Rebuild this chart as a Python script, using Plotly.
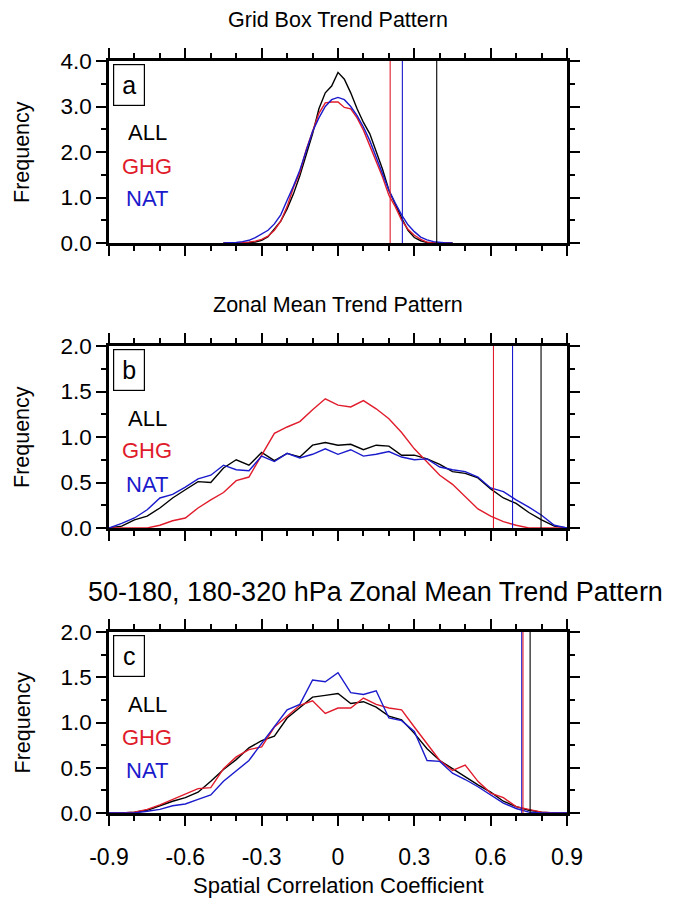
import plotly.graph_objects as go

# ---------------- data ----------------
# Panel a: Grid Box Trend Pattern (bin centres every 0.025)
x_a = [-0.45, -0.425, -0.4, -0.375, -0.35, -0.325, -0.3, -0.275, -0.25, -0.225, -0.2, -0.175,
       -0.15, -0.125, -0.1, -0.075, -0.05, -0.025, 0.0, 0.025, 0.05, 0.075, 0.1, 0.125,
       0.15, 0.175, 0.2, 0.225, 0.25, 0.275, 0.3, 0.325, 0.35, 0.375, 0.4, 0.425, 0.45]
all_a = [0, 0, 0, 0.0, 0.01, 0.02, 0.06, 0.14, 0.30, 0.48, 0.75, 1.08, 1.48, 1.95, 2.40, 2.95,
         3.30, 3.45, 3.75, 3.60, 3.30, 2.95, 2.65, 2.40, 2.00, 1.62, 1.16, 0.85, 0.55, 0.28,
         0.12, 0.05, 0.01, 0, 0, 0, 0]
ghg_a = [0, 0, 0, 0.01, 0.02, 0.04, 0.08, 0.15, 0.28, 0.48, 0.80, 1.22, 1.55, 2.05, 2.45, 2.85,
         3.08, 3.10, 3.10, 2.98, 2.95, 2.75, 2.48, 2.15, 1.82, 1.45, 1.05, 0.80, 0.50, 0.30,
         0.17, 0.08, 0.02, 0, 0, 0, 0]
nat_a = [0, 0, 0.01, 0.03, 0.06, 0.12, 0.20, 0.28, 0.42, 0.62, 0.94, 1.25, 1.60, 2.05, 2.45, 2.75,
         3.00, 3.15, 3.20, 3.15, 3.00, 2.80, 2.55, 2.25, 1.90, 1.55, 1.16, 0.88, 0.62, 0.40,
         0.25, 0.13, 0.07, 0.03, 0.01, 0, 0]
thr_a = {"ALL": 0.388, "GHG": 0.205, "NAT": 0.253}

# Panels b and c: bin centres every 0.05
x_bc = [-0.9, -0.85, -0.8, -0.75, -0.7, -0.65, -0.6, -0.55, -0.5, -0.45, -0.4, -0.35, -0.3,
        -0.25, -0.2, -0.15, -0.1, -0.05, 0.0, 0.05, 0.1, 0.15, 0.2, 0.25, 0.3, 0.35, 0.4,
        0.45, 0.5, 0.55, 0.6, 0.65, 0.7, 0.75, 0.8, 0.85, 0.9]

# Panel b: Zonal Mean Trend Pattern
all_b = [0, 0.02, 0.09, 0.13, 0.22, 0.33, 0.42, 0.51, 0.50, 0.66, 0.75, 0.69, 0.83, 0.74, 0.82,
         0.78, 0.91, 0.94, 0.91, 0.92, 0.86, 0.91, 0.90, 0.80, 0.80, 0.76, 0.70, 0.62, 0.60,
         0.55, 0.43, 0.33, 0.27, 0.17, 0.09, 0.02, 0]
ghg_b = [0, 0, 0, 0, 0.03, 0.08, 0.11, 0.22, 0.31, 0.39, 0.52, 0.56, 0.80, 1.04, 1.11, 1.17,
         1.30, 1.42, 1.35, 1.33, 1.40, 1.31, 1.20, 1.05, 0.87, 0.72, 0.58, 0.48, 0.35, 0.21,
         0.13, 0.07, 0.03, 0.0, 0, 0, 0]
nat_b = [0, 0.05, 0.11, 0.20, 0.33, 0.37, 0.45, 0.54, 0.58, 0.69, 0.64, 0.63, 0.79, 0.73, 0.82,
         0.77, 0.81, 0.87, 0.81, 0.86, 0.79, 0.81, 0.84, 0.78, 0.75, 0.76, 0.67, 0.64, 0.62,
         0.56, 0.44, 0.40, 0.31, 0.23, 0.14, 0.03, 0]
thr_b = {"ALL": 0.798, "GHG": 0.611, "NAT": 0.686}

# Panel c: 50-180, 180-320 hPa Zonal Mean Trend Pattern
all_c = [0, 0, 0.01, 0.03, 0.08, 0.13, 0.17, 0.23, 0.35, 0.48, 0.59, 0.72, 0.80, 0.85, 1.05,
         1.17, 1.28, 1.30, 1.32, 1.21, 1.23, 1.17, 1.07, 1.03, 0.88, 0.71, 0.58, 0.49, 0.40,
         0.31, 0.23, 0.13, 0.07, 0.03, 0.01, 0, 0]
ghg_c = [0, 0, 0.01, 0.04, 0.09, 0.15, 0.21, 0.27, 0.28, 0.49, 0.62, 0.70, 0.73, 0.95, 1.07,
         1.19, 1.24, 1.10, 1.16, 1.16, 1.27, 1.20, 1.16, 1.14, 0.95, 0.77, 0.58, 0.47, 0.53,
         0.35, 0.22, 0.17, 0.07, 0.04, 0.01, 0, 0]
nat_c = [0, 0, 0, 0.02, 0.04, 0.08, 0.10, 0.15, 0.20, 0.35, 0.46, 0.58, 0.77, 0.95, 1.14,
         1.20, 1.47, 1.45, 1.55, 1.33, 1.31, 1.35, 1.05, 1.02, 0.90, 0.58, 0.57, 0.44, 0.37,
         0.29, 0.20, 0.11, 0.05, 0.01, 0, 0, 0]
thr_c = {"ALL": 0.755, "NAT": 0.722, "GHG": 0.727}

panel_titles = ["Grid Box Trend Pattern", "Zonal Mean Trend Pattern",
                "50-180, 180-320 hPa Zonal Mean Trend Pattern"]
panel_letters = ["a", "b", "c"]
series_names = ["ALL", "GHG", "NAT"]
x_tickvals = [-0.9, -0.6, -0.3, 0, 0.3, 0.6, 0.9]
x_ticktext = ["-0.9", "-0.6", "-0.3", "0", "0.3", "0.6", "0.9"]
y_ticks_a = [0, 1, 2, 3, 4]
y_ticktext_a = ["0.0", "1.0", "2.0", "3.0", "4.0"]
y_ticks_bc = [0, 0.5, 1.0, 1.5, 2.0]
y_ticktext_bc = ["0.0", "0.5", "1.0", "1.5", "2.0"]

# ---------------- style ----------------
OFF = 8                     # default page body margin
W, H = 671, 891
L, R, T, B = 101, 112, 53, 86
PW, PH = W - L - R, H - T - B
COL = {"ALL": "#000000", "GHG": "#E01B2B", "NAT": "#1A1ACC"}
FONT = "Liberation Sans, Arial, Helvetica, sans-serif"


def px_x(p):                # page pixel -> paper fraction
    return (p - OFF - L) / PW


def px_y(p):
    return (H - B - (p - OFF)) / PH


panel_px = [(61, 243), (346, 528), (632, 813)]  # (top, bottom) page pixel rows
ymax = [4.0, 2.0, 2.0]
title_pos = [(338, 20, 21.5), (338, 305, 21.5), (375, 592, 27)]

panels = [
    (x_a, {"ALL": all_a, "GHG": ghg_a, "NAT": nat_a}, thr_a),
    (x_bc, {"ALL": all_b, "GHG": ghg_b, "NAT": nat_b}, thr_b),
    (x_bc, {"ALL": all_c, "GHG": ghg_c, "NAT": nat_c}, thr_c),
]

fig = go.Figure()
annotations = []
layout = {}

for i, (xs, series, thr) in enumerate(panels):
    n = i + 1
    xa = "x" if n == 1 else f"x{n}"
    ya = "y" if n == 1 else f"y{n}"
    for name in series_names:
        fig.add_trace(go.Scatter(x=xs, y=series[name], mode="lines", xaxis=xa, yaxis=ya,
                                 line=dict(color=COL[name], width=1.4), showlegend=False))
    for name in ["ALL", "NAT", "GHG"]:
        fig.add_trace(go.Scatter(x=[thr[name], thr[name]], y=[0, ymax[i]], mode="lines",
                                 xaxis=xa, yaxis=ya, line=dict(color=COL[name], width=1.1),
                                 showlegend=False))
    top, bot = panel_px[i]
    dom = [px_y(bot), px_y(top)]
    layout[f"xaxis{'' if n == 1 else n}"] = dict(
        domain=[0, 1], anchor=ya, range=[-0.9, 0.9],
        tickvals=x_tickvals, ticktext=x_ticktext, showticklabels=(n == 3),
        ticks="outside", ticklen=10, tickwidth=2, tickcolor="black",
        minor=dict(dtick=0.1, tick0=-0.9, ticks="outside", ticklen=5, tickwidth=1.5,
                   tickcolor="black", showgrid=False),
        showline=True, linewidth=2.5, linecolor="black", mirror="allticks",
        showgrid=False, zeroline=False, ticklabelstandoff=12,
        tickfont=dict(family=FONT, size=23, color="black"),
    )
    if n == 1:
        yt, ytt, ydt = y_ticks_a, y_ticktext_a, 0.5
    else:
        yt, ytt, ydt = y_ticks_bc, y_ticktext_bc, 0.25
    layout[f"yaxis{'' if n == 1 else n}"] = dict(
        domain=dom, anchor=xa, range=[0, ymax[i]],
        tickvals=yt, ticktext=ytt,
        ticks="outside", ticklen=10, tickwidth=2, tickcolor="black",
        minor=dict(dtick=ydt, tick0=0, ticks="outside", ticklen=5, tickwidth=1.5,
                   tickcolor="black", showgrid=False),
        showline=True, linewidth=2.5, linecolor="black", mirror="allticks",
        showgrid=False, zeroline=False,
        tickfont=dict(family=FONT, size=22.5, color="black"),
    )
    tx, ty, ts = title_pos[i]
    annotations.append(dict(text=panel_titles[i], xref="paper", yref="paper",
                            x=px_x(tx), y=px_y(ty), xanchor="center", yanchor="middle",
                            showarrow=False, font=dict(family=FONT, size=ts, color="black")))
    annotations.append(dict(text="Frequency", xref="paper", yref="paper",
                            x=px_x(22), y=px_y((top + bot) / 2), xanchor="center",
                            yanchor="middle", textangle=-90, showarrow=False,
                            font=dict(family=FONT, size=21.5, color="black")))
    annotations.append(dict(text=panel_letters[i], xref="paper", yref="paper",
                            x=px_x(128.5), y=px_y(top + 24), xanchor="center", yanchor="middle",
                            showarrow=False, bordercolor="black", borderwidth=1.2,
                            borderpad=5, bgcolor="white", width=20, height=30,
                            font=dict(family=FONT, size=25, color="black")))
    for k, name in enumerate(series_names):
        annotations.append(dict(text=name, xref="paper", yref="paper",
                                x=px_x(147), y=px_y(top + 72 + 33 * k),
                                xanchor="center", yanchor="middle", showarrow=False,
                                font=dict(family=FONT, size=22, color=COL[name])))

annotations.append(dict(text="Spatial Correlation Coefficient", xref="paper", yref="paper",
                        x=px_x(338), y=px_y(885), xanchor="center", yanchor="middle",
                        showarrow=False, font=dict(family=FONT, size=22, color="black")))

fig.update_layout(width=W, height=H, autosize=False,
                  margin=dict(l=L, r=R, t=T, b=B),
                  paper_bgcolor="white", plot_bgcolor="white",
                  annotations=annotations, **layout)

fig.write_html("out.html")
